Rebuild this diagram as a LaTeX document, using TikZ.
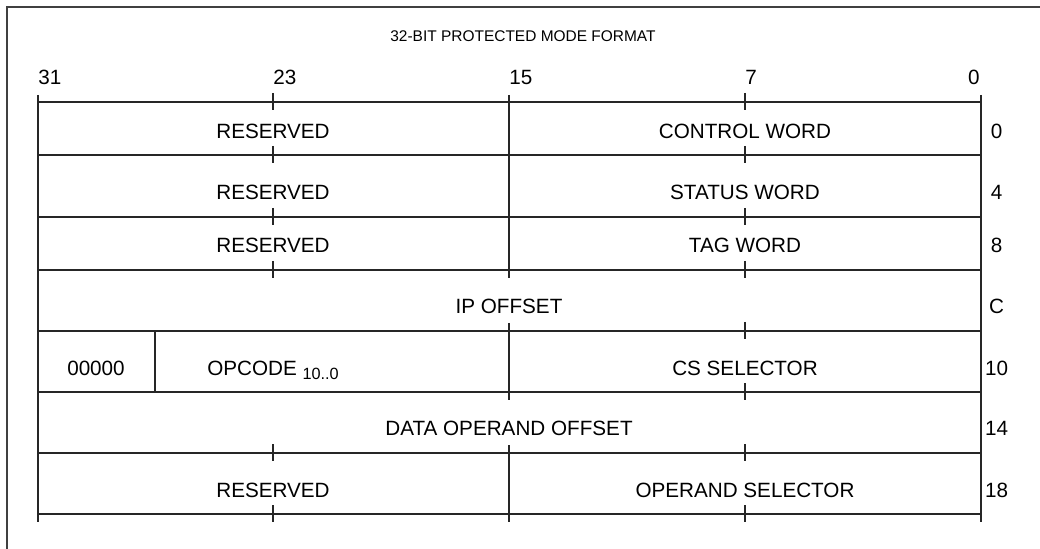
\documentclass[tikz,border=0pt]{standalone}
\usepackage{fontspec}
\setmainfont{Liberation Sans}

\tikzset{
  rule/.style={line width=0.8pt, draw=black!85},
  frameline/.style={line width=1.1pt, draw=black!75},
  fieldtxt/.style={font=\fontsize{15.5}{18}\selectfont, anchor=base, inner sep=0pt},
  bittxt/.style={font=\fontsize{15.5}{18}\selectfont, inner sep=0pt},
  titletxt/.style={font=\fontsize{11.6}{14}\selectfont, anchor=base, inner sep=0pt}
}

\begin{document}
\begin{tikzpicture}[x=0.75pt,y=0.75pt,yscale=-1,xscale=1]
\useasboundingbox (0,0) rectangle (1040,549);

%Outer frame
\draw[frameline] (7,549) -- (7,7) -- (1040,7) ;

%Straight Lines (row borders)
\foreach \ry in {102,155,217,270,331,392,453,514}
  \draw[rule] (38,\ry) -- (981,\ry) ;

%Straight Lines (left and right edges)
\draw[rule] (38,95) -- (38,522) ;
\draw[rule] (981,95) -- (981,522) ;

%Straight Lines (bit 15 divider)
\draw[rule] (509,95) -- (509,278) ;
\draw[rule] (509,323) -- (509,400) ;
\draw[rule] (509,445) -- (509,522) ;

%Straight Lines (00000 field)
\draw[rule] (155,331) -- (155,392) ;

%Ticks at bit 7
\foreach \ry in {102,155,217,270,331,392,453,514}
  \draw[rule] (745,\ry-9) -- (745,\ry+8) ;

%Ticks at bit 23
\foreach \ry in {102,155,217,270,453,514}
  \draw[rule] (273,\ry-9) -- (273,\ry+8) ;

% Text Node
\draw (523,41.7) node[titletxt] (title) {32-BIT PROTECTED MODE FORMAT};

% Text Node (bit numbers)
\draw (38,85) node[bittxt,anchor=base west] (b31) {31};
\draw (273,85) node[bittxt,anchor=base west] (b23) {23};
\draw (509,85) node[bittxt,anchor=base west] (b15) {15};
\draw (745,85) node[bittxt,anchor=base west] (b7) {7};
\draw (980,85) node[bittxt,anchor=base east] (b0) {0};

% Text Node (fields)
\draw (273,138.3) node[fieldtxt] (rsv0) {RESERVED};
\draw (745,138.3) node[fieldtxt] (ctrl) {CONTROL WORD};
\draw (273,199.3) node[fieldtxt] (rsv4) {RESERVED};
\draw (745,199.3) node[fieldtxt] (stat) {STATUS WORD};
\draw (273,252.3) node[fieldtxt] (rsv8) {RESERVED};
\draw (745,252.3) node[fieldtxt] (tag) {TAG WORD};
\draw (509,313.3) node[fieldtxt] (ipoff) {IP OFFSET};
\draw (96,375) node[fieldtxt] (zeros) {00000};
\draw (273,375) node[fieldtxt] (opc) {OPCODE \raisebox{-3.2pt}{\fontsize{12.2}{14}\selectfont 10..0}};
\draw (745,375) node[fieldtxt] (cssel) {CS SELECTOR};
\draw (509,435.7) node[fieldtxt] (dataoff) {DATA OPERAND OFFSET};
\draw (273,497.7) node[fieldtxt] (rsv18) {RESERVED};
\draw (745,497.7) node[fieldtxt] (opsel) {OPERAND SELECTOR};

% Text Node (offsets)
\draw (996.5,138.3) node[fieldtxt] (off0) {0};
\draw (996.5,199.3) node[fieldtxt] (off4) {4};
\draw (996.5,252.3) node[fieldtxt] (off8) {8};
\draw (996.5,313.3) node[fieldtxt] (offc) {C};
\draw (996.5,375) node[fieldtxt] (off10) {10};
\draw (996.5,435.7) node[fieldtxt] (off14) {14};
\draw (996.5,497.7) node[fieldtxt] (off18) {18};

\end{tikzpicture}
\end{document}
